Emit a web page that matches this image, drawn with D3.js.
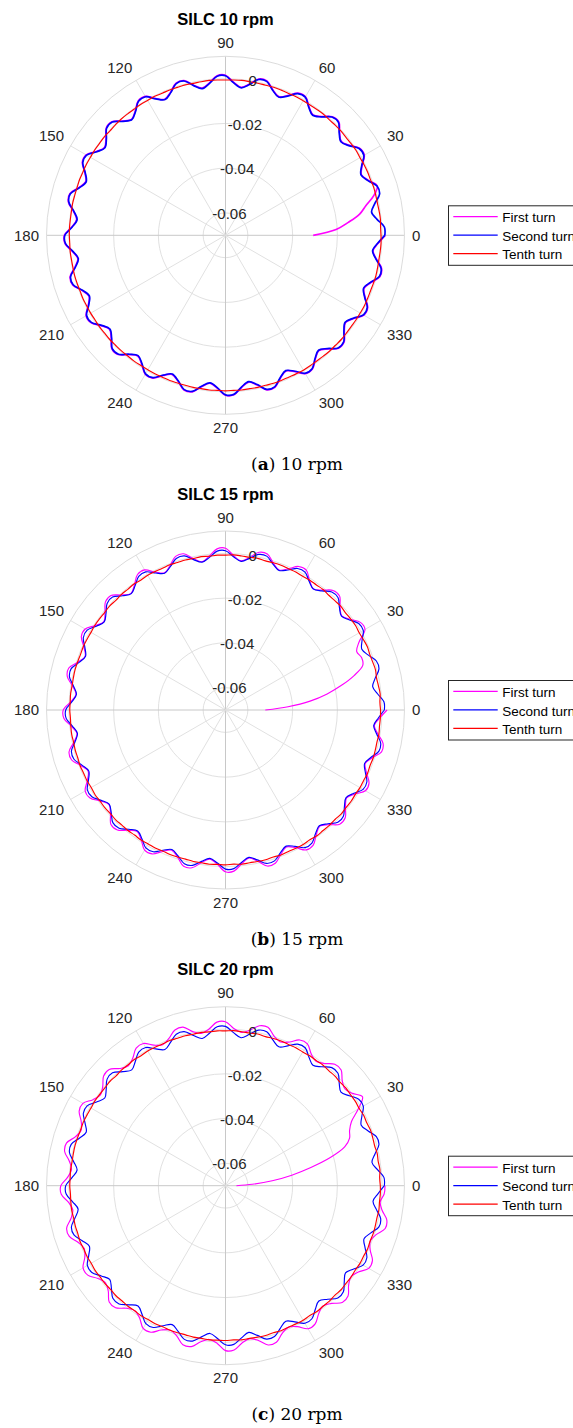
<!DOCTYPE html>
<html>
<head>
<meta charset="utf-8">
<script src="https://cdn.jsdelivr.net/npm/d3@7"></script>
<style>
  body { margin: 0; background: #fff; }
  svg { display: block; }
</style>
</head>
<body>
<div class="canvas"></div>
<script>
// Axis ticks and labels
const thetaTicks = [0, 30, 60, 90, 120, 150, 180, 210, 240, 270, 300, 330]
const rTicks = [-0.06, -0.04, -0.02, 0]
const rLimits = [-0.07, 0.01]
const angleStep = 3 // degrees between samples, 0..360

const titles = ['SILC 10 rpm', 'SILC 15 rpm', 'SILC 20 rpm']
const captionLetters = ['a', 'b', 'c']
const captionTexts = [' 10 rpm', ' 15 rpm', ' 20 rpm']
const seriesNames = ['First turn', 'Second turn', 'Tenth turn']
const seriesColors = ['#ff00ff', '#0000ff', '#ff0000']

// ---- 10 rpm ----
const firstTurn10 = [
  -0.0308, -0.0205, -0.0148, -0.0093, -0.0058, -0.0014, 0.0013, -0.0016, -0.0035, -0.0015,
  0.0016, 0.0014, -0.0016, -0.0034, -0.0014, 0.0016, 0.0013, -0.0017, -0.0035, -0.0015,
  0.0015, 0.0013, -0.0017, -0.0036, -0.0016, 0.0014, 0.0014, -0.0016, -0.0035, -0.0015,
  0.0015, 0.0014, -0.0015, -0.0034, -0.0014, 0.0016, 0.0015, -0.0015, -0.0034, -0.0014,
  0.0017, 0.0016, -0.0014, -0.0033, -0.0013, 0.0018, 0.0017, -0.0013, -0.0032, -0.0012,
  0.0019, 0.0018, -0.0012, -0.0031, -0.0011, 0.0020, 0.0018, -0.0012, -0.0031, -0.0011,
  0.0020, 0.0018, -0.0012, -0.0032, -0.0012, 0.0019, 0.0018, -0.0013, -0.0032, -0.0012,
  0.0019, 0.0017, -0.0013, -0.0033, -0.0013, 0.0018, 0.0017, -0.0014, -0.0033, -0.0013,
  0.0017, 0.0016, -0.0014, -0.0034, -0.0014, 0.0016, 0.0015, -0.0015, -0.0035, -0.0015,
  0.0015, 0.0014, -0.0016, -0.0036, -0.0016, 0.0015, 0.0014, -0.0016, -0.0036, -0.0016,
  0.0014, 0.0013, -0.0017, -0.0037, -0.0017, 0.0014, 0.0013, -0.0017, -0.0037, -0.0017,
  0.0014, 0.0013, -0.0017, -0.0037, -0.0017, 0.0014, 0.0013, -0.0017, -0.0037, -0.0017,
  0.0014
]
const secondTurn10 = [
  0.0012, 0.0011, -0.0019, -0.0039, -0.0018, 0.0013, 0.0012, -0.0018, -0.0037, -0.0017,
  0.0014, 0.0012, -0.0018, -0.0036, -0.0016, 0.0014, 0.0011, -0.0019, -0.0037, -0.0017,
  0.0013, 0.0011, -0.0019, -0.0038, -0.0018, 0.0012, 0.0012, -0.0018, -0.0037, -0.0017,
  0.0013, 0.0012, -0.0017, -0.0036, -0.0016, 0.0014, 0.0013, -0.0017, -0.0036, -0.0016,
  0.0015, 0.0014, -0.0016, -0.0035, -0.0015, 0.0016, 0.0015, -0.0015, -0.0034, -0.0014,
  0.0017, 0.0016, -0.0014, -0.0033, -0.0013, 0.0018, 0.0016, -0.0014, -0.0033, -0.0013,
  0.0018, 0.0016, -0.0014, -0.0034, -0.0014, 0.0017, 0.0016, -0.0015, -0.0034, -0.0014,
  0.0017, 0.0015, -0.0015, -0.0035, -0.0015, 0.0016, 0.0015, -0.0016, -0.0035, -0.0015,
  0.0015, 0.0014, -0.0016, -0.0036, -0.0016, 0.0014, 0.0013, -0.0017, -0.0037, -0.0017,
  0.0013, 0.0012, -0.0018, -0.0038, -0.0018, 0.0013, 0.0012, -0.0018, -0.0038, -0.0018,
  0.0012, 0.0011, -0.0019, -0.0039, -0.0019, 0.0012, 0.0011, -0.0019, -0.0039, -0.0019,
  0.0012, 0.0011, -0.0019, -0.0039, -0.0019, 0.0012, 0.0011, -0.0019, -0.0039, -0.0019,
  0.0012
]
const tenthTurn10 = [
  -0.0005, -0.0006, -0.0004, -0.0005, -0.0006, -0.0005, -0.0004, -0.0006, -0.0005, -0.0005,
  -0.0006, -0.0004, -0.0005, -0.0006, -0.0005, -0.0005, -0.0006, -0.0004, -0.0005, -0.0006,
  -0.0006, -0.0005, -0.0006, -0.0005, -0.0004, -0.0006, -0.0005, -0.0005, -0.0004, -0.0005,
  -0.0006, -0.0005, -0.0004, -0.0005, -0.0006, -0.0004, -0.0005, -0.0004, -0.0005, -0.0003,
  -0.0004, -0.0003, -0.0004, -0.0003, -0.0002, -0.0003, -0.0004, -0.0002, -0.0003, -0.0002,
  -0.0003, -0.0002, -0.0003, -0.0002, -0.0003, -0.0003, -0.0002, -0.0003, -0.0003, -0.0002,
  -0.0002, -0.0003, -0.0002, -0.0003, -0.0003, -0.0002, -0.0003, -0.0004, -0.0003, -0.0004,
  -0.0004, -0.0005, -0.0004, -0.0005, -0.0004, -0.0005, -0.0005, -0.0006, -0.0005, -0.0006,
  -0.0006, -0.0005, -0.0006, -0.0005, -0.0006, -0.0006, -0.0005, -0.0006, -0.0005, -0.0006,
  -0.0005, -0.0006, -0.0005, -0.0006, -0.0005, -0.0006, -0.0005, -0.0005, -0.0006, -0.0005,
  -0.0004, -0.0005, -0.0006, -0.0005, -0.0004, -0.0005, -0.0004, -0.0005, -0.0006, -0.0005,
  -0.0005, -0.0004, -0.0005, -0.0006, -0.0005, -0.0004, -0.0005, -0.0006, -0.0005, -0.0004,
  -0.0005
]

// ---- 15 rpm ----
const firstTurn15 = [
  -0.0522, -0.0420, -0.0320, -0.0240, -0.0170, -0.0105, -0.0055, -0.0048, -0.0058, -0.0030,
  0.0020, 0.0019, -0.0010, -0.0031, -0.0011, 0.0021, 0.0019, -0.0010, -0.0031, -0.0010,
  0.0022, 0.0020, -0.0009, -0.0030, -0.0009, 0.0022, 0.0021, -0.0009, -0.0030, -0.0009,
  0.0023, 0.0021, -0.0008, -0.0029, -0.0008, 0.0023, 0.0022, -0.0008, -0.0029, -0.0008,
  0.0023, 0.0022, -0.0008, -0.0029, -0.0008, 0.0024, 0.0022, -0.0007, -0.0028, -0.0007,
  0.0024, 0.0023, -0.0007, -0.0028, -0.0007, 0.0025, 0.0023, -0.0007, -0.0028, -0.0007,
  0.0025, 0.0023, -0.0007, -0.0028, -0.0007, 0.0024, 0.0023, -0.0007, -0.0028, -0.0007,
  0.0024, 0.0022, -0.0008, -0.0029, -0.0008, 0.0024, 0.0022, -0.0008, -0.0029, -0.0008,
  0.0023, 0.0022, -0.0008, -0.0029, -0.0008, 0.0023, 0.0021, -0.0009, -0.0030, -0.0009,
  0.0023, 0.0021, -0.0009, -0.0030, -0.0009, 0.0022, 0.0020, -0.0009, -0.0030, -0.0009,
  0.0022, 0.0020, -0.0010, -0.0031, -0.0010, 0.0022, 0.0020, -0.0010, -0.0031, -0.0010,
  0.0022, 0.0020, -0.0010, -0.0031, -0.0010, 0.0022, 0.0020, -0.0010, -0.0031, -0.0010,
  0.0022
]
const secondTurn15 = [
  0.0010, 0.0009, -0.0016, -0.0034, -0.0016, 0.0010, 0.0009, -0.0016, -0.0033, -0.0015,
  0.0011, 0.0010, -0.0015, -0.0033, -0.0015, 0.0011, 0.0010, -0.0015, -0.0032, -0.0014,
  0.0011, 0.0010, -0.0015, -0.0032, -0.0014, 0.0012, 0.0011, -0.0014, -0.0032, -0.0014,
  0.0012, 0.0011, -0.0014, -0.0031, -0.0013, 0.0013, 0.0012, -0.0013, -0.0031, -0.0013,
  0.0013, 0.0012, -0.0013, -0.0031, -0.0013, 0.0014, 0.0012, -0.0013, -0.0030, -0.0012,
  0.0014, 0.0013, -0.0012, -0.0030, -0.0012, 0.0014, 0.0013, -0.0012, -0.0030, -0.0012,
  0.0014, 0.0013, -0.0012, -0.0030, -0.0012, 0.0013, 0.0012, -0.0013, -0.0031, -0.0013,
  0.0013, 0.0012, -0.0013, -0.0031, -0.0013, 0.0012, 0.0011, -0.0014, -0.0032, -0.0014,
  0.0012, 0.0011, -0.0014, -0.0032, -0.0014, 0.0011, 0.0010, -0.0015, -0.0033, -0.0015,
  0.0011, 0.0010, -0.0015, -0.0033, -0.0015, 0.0010, 0.0009, -0.0016, -0.0034, -0.0016,
  0.0010, 0.0009, -0.0016, -0.0034, -0.0016, 0.0010, 0.0009, -0.0016, -0.0034, -0.0016,
  0.0010, 0.0009, -0.0016, -0.0034, -0.0016, 0.0010, 0.0009, -0.0016, -0.0034, -0.0016,
  0.0010
]
const tenthTurn15 = [
  -0.0007, -0.0009, -0.0005, -0.0008, -0.0010, -0.0006, -0.0008, -0.0009, -0.0006, -0.0008,
  -0.0010, -0.0007, -0.0008, -0.0010, -0.0007, -0.0009, -0.0010, -0.0007, -0.0009, -0.0008,
  -0.0010, -0.0008, -0.0009, -0.0007, -0.0008, -0.0010, -0.0007, -0.0009, -0.0008, -0.0006,
  -0.0008, -0.0007, -0.0009, -0.0006, -0.0008, -0.0006, -0.0007, -0.0005, -0.0007, -0.0006,
  -0.0005, -0.0007, -0.0004, -0.0006, -0.0005, -0.0007, -0.0004, -0.0006, -0.0005, -0.0004,
  -0.0006, -0.0005, -0.0004, -0.0006, -0.0005, -0.0004, -0.0005, -0.0006, -0.0004, -0.0005,
  -0.0004, -0.0006, -0.0005, -0.0004, -0.0006, -0.0005, -0.0006, -0.0004, -0.0006, -0.0005,
  -0.0007, -0.0005, -0.0007, -0.0006, -0.0008, -0.0006, -0.0008, -0.0007, -0.0009, -0.0007,
  -0.0009, -0.0008, -0.0010, -0.0008, -0.0009, -0.0010, -0.0008, -0.0009, -0.0007, -0.0009,
  -0.0008, -0.0010, -0.0007, -0.0009, -0.0008, -0.0007, -0.0009, -0.0006, -0.0008, -0.0007,
  -0.0006, -0.0008, -0.0005, -0.0007, -0.0006, -0.0008, -0.0005, -0.0007, -0.0006, -0.0008,
  -0.0006, -0.0007, -0.0005, -0.0008, -0.0006, -0.0007, -0.0008, -0.0006, -0.0008, -0.0007,
  -0.0007
]

// ---- 20 rpm ----
const firstTurn20 = [
  -0.0651, -0.0580, -0.0490, -0.0400, -0.0310, -0.0215, -0.0140, -0.0106, -0.0093, -0.0068,
  -0.0015, 0.0030, 0.0002, -0.0013, 0.0002, 0.0031, 0.0030, 0.0003, -0.0012, 0.0003,
  0.0032, 0.0031, 0.0003, -0.0012, 0.0003, 0.0033, 0.0031, 0.0004, -0.0011, 0.0004,
  0.0033, 0.0032, 0.0004, -0.0011, 0.0004, 0.0034, 0.0032, 0.0005, -0.0010, 0.0005,
  0.0034, 0.0033, 0.0005, -0.0010, 0.0005, 0.0035, 0.0033, 0.0006, -0.0009, 0.0006,
  0.0036, 0.0034, 0.0006, -0.0009, 0.0006, 0.0036, 0.0035, 0.0007, -0.0008, 0.0007,
  0.0036, 0.0035, 0.0006, -0.0009, 0.0006, 0.0035, 0.0034, 0.0006, -0.0009, 0.0006,
  0.0035, 0.0034, 0.0005, -0.0010, 0.0005, 0.0035, 0.0034, 0.0005, -0.0010, 0.0005,
  0.0036, 0.0035, 0.0006, -0.0009, 0.0006, 0.0036, 0.0035, 0.0006, -0.0009, 0.0006,
  0.0037, 0.0035, 0.0007, -0.0008, 0.0007, 0.0037, 0.0036, 0.0007, -0.0008, 0.0007,
  0.0038, 0.0036, 0.0008, -0.0008, 0.0008, 0.0038, 0.0037, 0.0008, -0.0007, 0.0008,
  0.0039, 0.0037, 0.0008, -0.0007, 0.0008, 0.0039, 0.0037, 0.0009, -0.0005, 0.0010,
  0.0013
]
const secondTurn20 = [
  0.0010, 0.0009, -0.0017, -0.0037, -0.0017, 0.0010, 0.0009, -0.0017, -0.0036, -0.0016,
  0.0011, 0.0010, -0.0016, -0.0036, -0.0016, 0.0011, 0.0010, -0.0016, -0.0035, -0.0015,
  0.0012, 0.0010, -0.0016, -0.0035, -0.0015, 0.0012, 0.0011, -0.0015, -0.0035, -0.0015,
  0.0012, 0.0011, -0.0015, -0.0034, -0.0014, 0.0013, 0.0012, -0.0014, -0.0034, -0.0014,
  0.0013, 0.0012, -0.0014, -0.0034, -0.0014, 0.0014, 0.0012, -0.0014, -0.0033, -0.0013,
  0.0014, 0.0013, -0.0013, -0.0033, -0.0013, 0.0014, 0.0013, -0.0013, -0.0033, -0.0013,
  0.0014, 0.0013, -0.0013, -0.0033, -0.0013, 0.0013, 0.0012, -0.0014, -0.0034, -0.0014,
  0.0013, 0.0012, -0.0014, -0.0034, -0.0014, 0.0012, 0.0011, -0.0015, -0.0035, -0.0015,
  0.0012, 0.0011, -0.0015, -0.0035, -0.0015, 0.0011, 0.0010, -0.0016, -0.0036, -0.0016,
  0.0011, 0.0010, -0.0016, -0.0036, -0.0016, 0.0010, 0.0009, -0.0017, -0.0037, -0.0017,
  0.0010, 0.0009, -0.0017, -0.0037, -0.0017, 0.0010, 0.0009, -0.0017, -0.0037, -0.0017,
  0.0010, 0.0009, -0.0017, -0.0037, -0.0017, 0.0010, 0.0009, -0.0017, -0.0037, -0.0017,
  0.0010
]
const tenthTurn20 = [
  -0.0008, -0.0010, -0.0006, -0.0009, -0.0007, -0.0010, -0.0008, -0.0006, -0.0009, -0.0007,
  -0.0010, -0.0008, -0.0009, -0.0007, -0.0010, -0.0008, -0.0009, -0.0007, -0.0009, -0.0008,
  -0.0010, -0.0008, -0.0009, -0.0007, -0.0008, -0.0010, -0.0007, -0.0009, -0.0008, -0.0006,
  -0.0008, -0.0007, -0.0009, -0.0006, -0.0008, -0.0006, -0.0007, -0.0005, -0.0007, -0.0006,
  -0.0005, -0.0007, -0.0004, -0.0006, -0.0005, -0.0007, -0.0004, -0.0006, -0.0005, -0.0004,
  -0.0006, -0.0005, -0.0004, -0.0006, -0.0005, -0.0004, -0.0005, -0.0006, -0.0004, -0.0005,
  -0.0004, -0.0006, -0.0005, -0.0004, -0.0006, -0.0005, -0.0006, -0.0004, -0.0006, -0.0005,
  -0.0007, -0.0005, -0.0007, -0.0006, -0.0008, -0.0006, -0.0008, -0.0007, -0.0009, -0.0007,
  -0.0009, -0.0008, -0.0010, -0.0008, -0.0009, -0.0010, -0.0008, -0.0009, -0.0007, -0.0009,
  -0.0008, -0.0010, -0.0007, -0.0009, -0.0008, -0.0007, -0.0009, -0.0006, -0.0008, -0.0007,
  -0.0006, -0.0008, -0.0005, -0.0007, -0.0006, -0.0008, -0.0005, -0.0007, -0.0006, -0.0008,
  -0.0006, -0.0007, -0.0005, -0.0008, -0.0006, -0.0007, -0.0008, -0.0006, -0.0008, -0.0007,
  -0.0008
]

const panels = [
  [firstTurn10, secondTurn10, tenthTurn10],
  [firstTurn15, secondTurn15, tenthTurn15],
  [firstTurn20, secondTurn20, tenthTurn20]
]

// Select SVG container
const width = 573
const height = 1428
const svg = d3.select('.canvas')
  .append('svg')
  .attr('width', width)
  .attr('height', height)

// Dimensions
const cx = 225.5
const panelTop = [235.3, 710, 1185.7]
const outerR = 179
const sansFont = '"Liberation Sans", Arial, sans-serif'

// Scales
const r = d3.scaleLinear().domain(rLimits).range([0, outerR])
const toRad = deg => deg * Math.PI / 180

const line = d3.lineRadial()
  .angle((d, i) => toRad(90 - i * angleStep))
  .radius(d => r(d))
  .curve(d3.curveCatmullRom.alpha(0.5))

panels.forEach((series, p) => {
  const g = svg.append('g')
    .attr('transform', `translate(${cx}, ${panelTop[p]})`)

  // Grid rings
  g.selectAll('.ring')
    .data(rTicks)
    .enter()
    .append('circle')
    .attr('r', d => r(d))
    .attr('fill', 'none')
    .attr('stroke', '#e1e1e1')
    .attr('stroke-width', 1)

  // Spokes
  g.selectAll('.spoke')
    .data(thetaTicks)
    .enter()
    .append('line')
    .attr('x1', 0).attr('y1', 0)
    .attr('x2', d => outerR * Math.cos(toRad(d)))
    .attr('y2', d => -outerR * Math.sin(toRad(d)))
    .attr('stroke', d => d % 90 === 0 ? '#c8c8c8' : '#e1e1e1')
    .attr('stroke-width', 1)

  // Outer edge
  g.append('circle')
    .attr('r', outerR)
    .attr('fill', 'none')
    .attr('stroke', '#dcdcdc')
    .attr('stroke-width', 1)

  // Data lines
  g.selectAll('.turn')
    .data(series)
    .enter()
    .append('path')
    .attr('d', d => line(d))
    .attr('fill', 'none')
    .attr('stroke', (d, i) => seriesColors[i])
    .attr('stroke-width', (d, i) => (p === 0 && i < 2) ? 1.7 : 1.15)
    .attr('stroke-linejoin', 'round')

  // Theta labels
  g.selectAll('.tlabel')
    .data(thetaTicks)
    .enter()
    .append('text')
    .attr('x', d => (outerR + 7.5) * Math.cos(toRad(d)))
    .attr('y', d => -(outerR + 7.5) * Math.sin(toRad(d)))
    .attr('text-anchor', d => {
      const c = Math.cos(toRad(d))
      return Math.abs(c) < 0.01 ? 'middle' : (c > 0 ? 'start' : 'end')
    })
    .attr('dy', d => {
      const s = Math.sin(toRad(d))
      return Math.abs(s) < 0.01 ? '0.35em' : (s > 0 ? '-0.05em' : '0.75em')
    })
    .attr('font-family', sansFont)
    .attr('font-size', 15)
    .attr('fill', '#262626')
    .text(d => d)

  // Radial labels at 80 degrees
  g.selectAll('.rlabel')
    .data(rTicks)
    .enter()
    .append('text')
    .attr('x', d => r(d) * Math.cos(toRad(80)))
    .attr('y', d => -r(d) * Math.sin(toRad(80)))
    .attr('dy', '0.35em')
    .attr('text-anchor', 'middle')
    .attr('font-family', sansFont)
    .attr('font-size', 15)
    .attr('fill', '#262626')
    .text(d => d === 0 ? '0' : d.toFixed(2))

  // Title
  g.append('text')
    .attr('x', 0)
    .attr('y', -210.5)
    .attr('text-anchor', 'middle')
    .attr('font-family', sansFont)
    .attr('font-size', 16.5)
    .attr('font-weight', 'bold')
    .attr('fill', '#000')
    .text(titles[p])

  // Legend (clipped by the page edge, as in the source figure)
  const legend = g.append('g').attr('transform', 'translate(223, 0)')
  legend.append('rect')
    .attr('x', 0).attr('y', -29.5)
    .attr('width', 140).attr('height', 59.5)
    .attr('fill', '#fff')
    .attr('stroke', '#262626')
    .attr('stroke-width', 1)
  const rows = legend.selectAll('.row')
    .data(seriesNames)
    .enter()
    .append('g')
    .attr('transform', (d, i) => `translate(0, ${-18.6 + i * 18.5})`)
  rows.append('line')
    .attr('x1', 4.8).attr('x2', 49.2)
    .attr('y1', 0).attr('y2', 0)
    .attr('stroke', (d, i) => seriesColors[i])
    .attr('stroke-width', 1.2)
  rows.append('text')
    .attr('x', 53.8)
    .attr('y', 1)
    .attr('dy', '0.35em')
    .attr('font-family', sansFont)
    .attr('font-size', 13.5)
    .attr('fill', '#000')
    .text(d => d)

  // Caption
  const cap = g.append('text')
    .attr('x', 71.5)
    .attr('y', 234.5)
    .attr('text-anchor', 'middle')
    .attr('font-family', '"DejaVu Serif", serif')
    .attr('font-size', 17)
    .attr('fill', '#000')
  cap.append('tspan').text('(')
  cap.append('tspan').attr('font-weight', 'bold').text(captionLetters[p])
  cap.append('tspan').text(')' + captionTexts[p])
})
</script>
</body>
</html>
